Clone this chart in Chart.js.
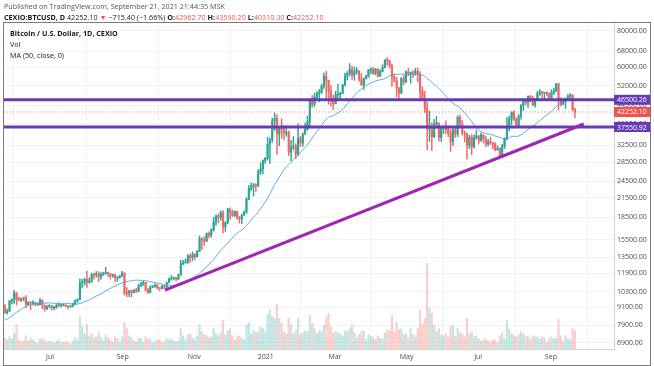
<!DOCTYPE html>
<html>
<head>
<meta charset="utf-8">
<script src="https://cdn.jsdelivr.net/npm/chart.js@4.4.0/dist/chart.umd.min.js"></script>
<style>
    html, body { margin: 0; padding: 0; background: #fff; }
    #wrap { position: relative; width: 654px; height: 366px; overflow: hidden; font-family: "Open Sans", sans-serif; color: #131722; }
    #wrap canvas { position: absolute; left: 0; top: 0; }
    .txt { position: absolute; white-space: nowrap; font-size: 7.2px; line-height: 10px; }
    .r { color: #ef5350; }
    .g { color: #555; }
</style>
</head>
<body>
<div id="wrap">
    <canvas id="chart" width="654" height="366"></canvas>
    <div class="txt g" style="left:4px; top:1px;">Published on TradingView.com, September 21, 2021 21:44:35 MSK</div>
    <div class="txt" style="left:4px; top:12px;"><b>CEXIO:BTCUSD, D</b> 42252.10 <span class="r">▼</span> −715.40 (−1.66%) <b>O:</b><span class="r">42962.70</span> <b>H:</b><span class="r">43590.20</span> <b>L:</b><span class="r">40310.30</span> <b>C:</b><span class="r">42252.10</span></div>
    <div class="txt" style="left:10px; top:28px;"><b>Bitcoin / U.S. Dollar, 1D, CEXIO</b></div>
    <div class="txt" style="left:10px; top:39px;">Vol</div>
    <div class="txt" style="left:10px; top:50px;">MA (50, close, 0)</div>
</div>
<script>
// Each candle covers two days, starting 2020-05-23 (day 143 counted from 2020-01-01)
const startDay = 143;
const dayStep = 2;
const firstOpen = 9170;

// two-day closes before the first candle, only used for the 50 day MA
const priorCloses = [
    7350, 7370, 6870, 6910, 6860, 7080, 7260, 6880, 7130, 7500, 7700, 7790,
    8660, 8990, 8900, 9160, 9990, 8740, 8820, 9800, 9380, 9720, 9520, 9170
];

const closes = [
    8720, 8840, 9575, 9700, 10200, 9660, 9650, 9780, 9770, 9320,
    9470, 9430, 9450, 9300, 9300, 9620, 9250, 9010, 9190, 9230,
    9070, 9070, 9250, 9240, 9240, 9240, 9190, 9150, 9210, 9390,
    9610, 9710, 11030, 11100, 11350, 11070, 11190, 11770, 11750, 11880,
    11580, 11770, 11910, 11960, 11870, 11660, 11770, 11470, 11540, 11680,
    11920, 10180, 10170, 10370, 10240, 10400, 10330, 10790, 10940, 11090,
    10420, 10240, 10690, 10770, 10840, 10620, 10550, 10790, 10670, 11060,
    11380, 11430, 11500, 11360, 11750, 12820, 12930, 13030, 13650, 13460,
    13800, 13550, 14150, 15580, 15480, 15310, 16280, 16070, 16720, 17800,
    18680, 18420, 19160, 17150, 17720, 19700, 19220, 18700, 19360, 18320,
    18250, 18800, 19270, 21310, 23140, 23480, 23820, 23730, 26440, 27040,
    28840, 29370, 32780, 33990, 39370, 40250, 35560, 37320, 36820, 35790,
    36070, 30830, 32070, 32370, 30430, 34320, 33110, 35510, 36930, 39270,
    46200, 44920, 47500, 48720, 49200, 51680, 55920, 54210, 49680, 46340,
    45140, 48380, 48380, 48880, 52380, 55960, 57230, 59120, 56430, 58230,
    58240, 54500, 52300, 55100, 55860, 58800, 59050, 57070, 59120, 56000,
    58100, 59790, 63500, 63310, 60680, 55720, 53900, 51090, 49000, 55030,
    53560, 57830, 57210, 57470, 57360, 58230, 56700, 49720, 46760, 43540,
    36960, 37280, 34770, 38490, 38530, 34620, 37330, 37570, 36890, 35800,
    33470, 36700, 35550, 40520, 38350, 35820, 35600, 32510, 34660, 32160,
    34490, 35040, 33800, 35290, 34220, 32880, 33520, 33120, 32820, 31420,
    31780, 29790, 32310, 34290, 37270, 40020, 42240, 39970, 38150, 40870,
    44610, 46290, 45550, 47830, 47050, 44690, 46760, 48870, 49510, 48960,
    49070, 48830, 47130, 49290, 49920, 52680, 46070, 44850, 46030, 47090,
    47760, 48310, 42967.5, 42252.1
];

const highs = [
    9310, 8980, 9620, 9740, 10400, 10230, 9880, 9800, 9880, 9990,
    9540, 9490, 9580, 9480, 9410, 9780, 9670, 9290, 9230, 9300,
    9260, 9180, 9380, 9460, 9310, 9340, 9290, 9210, 9240, 9420,
    9660, 9730, 11400, 11340, 11460, 12100, 11480, 11910, 11920, 12080,
    12050, 11960, 12000, 12470, 12020, 11880, 11830, 11800, 11590, 11700,
    12080, 11950, 10630, 10420, 10440, 10490, 10580, 10940, 11080, 11170,
    11090, 10580, 10790, 10810, 10950, 10900, 10640, 10800, 10800, 11100,
    11480, 11720, 11560, 11540, 11820, 13200, 13180, 13330, 13790, 13860,
    14080, 13890, 14250, 15970, 15760, 15840, 16340, 16480, 16880, 18480,
    18790, 18970, 19400, 19480, 17880, 19850, 19920, 19570, 19420, 19390,
    18640, 18950, 19400, 21530, 23770, 24170, 24100, 24070, 26870, 28370,
    28990, 29600, 34700, 34400, 40200, 41950, 41400, 37700, 40100, 37900,
    37850, 36400, 33800, 34800, 32900, 38500, 34900, 35900, 38700, 40900,
    46700, 48100, 48900, 49700, 50500, 52500, 57400, 58300, 54300, 52000,
    48300, 49800, 52600, 49400, 52400, 57300, 58100, 61800, 60600, 60100,
    59900, 58500, 57200, 55200, 56600, 59000, 59800, 60100, 59500, 59400,
    58900, 61200, 63800, 64800, 63500, 61500, 57000, 55500, 51200, 55400,
    56400, 58400, 59500, 57900, 58400, 59500, 59600, 58000, 51500, 49700,
    45800, 42500, 38800, 39900, 40800, 38900, 37500, 37900, 39400, 37900,
    36800, 37500, 37700, 41000, 41300, 39500, 36400, 35800, 35200, 35400,
    35300, 36600, 35100, 35900, 35300, 35000, 34100, 34600, 33300, 33200,
    32400, 31900, 32800, 34500, 40500, 40900, 42300, 42600, 40400, 41400,
    44700, 46400, 46700, 47900, 48100, 47900, 47000, 49700, 50400, 49800,
    49300, 49600, 49100, 50400, 51000, 52900, 52900, 47300, 46400, 47200,
    48500, 48800, 48400, 43590.2
];

const lows = [
    8700, 8640, 8820, 9340, 9400, 9270, 9580, 9520, 9570, 9100,
    9240, 8920, 9260, 9230, 9220, 9280, 9000, 8840, 8950, 9090,
    8950, 8920, 9060, 9160, 9120, 9200, 9150, 9000, 9110, 9130,
    9280, 9460, 9650, 10600, 10830, 10650, 11010, 11080, 11370, 11530,
    11150, 11350, 11690, 11810, 11580, 11370, 11520, 11130, 11170, 11440,
    11570, 10030, 9900, 9900, 9880, 10200, 10220, 10290, 10720, 10810,
    10350, 10150, 10200, 10630, 10650, 10500, 10390, 10520, 10540, 10650,
    11040, 11270, 11300, 11220, 11340, 11700, 12720, 12880, 12800, 12950,
    13120, 13250, 13530, 14100, 14340, 14800, 15280, 15710, 15800, 16570,
    17340, 17660, 18020, 16330, 16530, 17540, 18200, 18590, 18600, 18200,
    17650, 17570, 18740, 19050, 21230, 22760, 21820, 22650, 23450, 25850,
    25970, 28220, 28950, 28200, 33300, 36500, 30300, 32400, 34400, 33900,
    34900, 30000, 28850, 31400, 29300, 30000, 32200, 32300, 35400, 36600,
    37400, 43800, 44100, 46300, 45800, 48900, 50800, 47000, 45000, 44200,
    43000, 45000, 47100, 46300, 48800, 51900, 54300, 56100, 54600, 54200,
    57000, 53700, 52000, 50400, 54700, 55500, 57000, 56900, 56500, 55500,
    55900, 57900, 59700, 61000, 59600, 51700, 53500, 47500, 47000, 48800,
    52400, 53100, 56100, 53000, 55300, 56300, 53500, 46000, 46600, 42100,
    31400, 33500, 31200, 34500, 37200, 33600, 33500, 35700, 35600, 34800,
    31000, 32400, 34600, 34800, 38100, 35200, 33400, 29100, 31700, 30200,
    31800, 34100, 32800, 33500, 33100, 32100, 32300, 32700, 31600, 31100,
    31200, 29500, 29500, 31700, 33900, 36400, 38300, 39500, 37700, 37400,
    39900, 42800, 44700, 43800, 45600, 44400, 43900, 46700, 48100, 47100,
    46400, 48000, 46200, 46600, 48400, 49500, 42900, 44200, 44800, 43400,
    46700, 46800, 42600, 40310.3
];

// volume in BTC per candle
const vols = [
    1100, 900, 1200, 1000, 1500, 2400, 900, 700, 800, 1300,
    800, 1100, 900, 700, 600, 1000, 1000, 900, 700, 800,
    700, 600, 800, 900, 600, 700, 700, 700, 500, 800,
    1100, 900, 3200, 2200, 1500, 2400, 1300, 1500, 1100, 1200,
    1600, 1100, 800, 1400, 1100, 900, 700, 1200, 1000, 700,
    1200, 2600, 2000, 1300, 1100, 800, 700, 1100, 1000, 700,
    1200, 1000, 1000, 600, 800, 900, 900, 600, 800, 1000,
    900, 1000, 800, 700, 800, 2000, 1300, 900, 1400, 1500,
    1100, 900, 1300, 2400, 1700, 1400, 1300, 1100, 1200, 2000,
    1500, 1300, 1600, 2800, 1400, 1800, 2000, 1300, 900, 1200,
    1300, 1100, 900, 2300, 2600, 1500, 1900, 1600, 1700, 2200,
    2000, 1700, 3400, 3800, 3200, 3000, 4400, 3000, 2500, 1700,
    1500, 3000, 2400, 1500, 1900, 3000, 1400, 1600, 1800, 1700,
    3300, 2500, 2000, 1500, 1800, 1700, 2300, 3100, 3500, 2200,
    1600, 1700, 1600, 1500, 1300, 1800, 1700, 2000, 2300, 1600,
    1100, 1400, 1700, 1800, 900, 1400, 1200, 1100, 900, 1300,
    1100, 1000, 1600, 1900, 1800, 3300, 1700, 2600, 1900, 2000,
    1400, 1500, 1100, 2000, 1400, 1200, 2000, 3800, 2400, 3000,
    8400, 4000, 3500, 2300, 1700, 2000, 1400, 1300, 1500, 1200,
    2200, 2300, 1300, 2000, 1600, 1500, 1200, 3000, 1500, 1700,
    1200, 1300, 1000, 800, 900, 1000, 800, 700, 900, 900,
    600, 1300, 1600, 1000, 2800, 1900, 1500, 1300, 1200, 1400,
    1700, 1500, 1200, 1300, 1000, 1300, 1200, 1200, 1000, 1200,
    1100, 700, 1000, 1200, 1000, 1100, 2900, 1300, 700, 1300,
    1000, 900, 2000, 1800
];

// axis ticks
const priceTicks = [ 6900, 7900, 9100, 10300, 11900, 13500, 15500, 18500, 21500, 24500, 28500, 32500, 38500, 44500, 52000, 60000, 68000, 80000 ];
const monthDays = [ 182, 244, 305, 366, 425, 486, 547, 609 ];
const monthLabels = [ 'Jul', 'Sep', 'Nov', '2021', 'Mar', 'May', 'Jul', 'Sep' ];

// drawings
const levels = [ 46500.26, 37550.92 ];
const lastPrice = 42252.10;
const trendDays = [ 280, 637 ];
const trendPrices = [ 10430, 38450 ];

const xMin = 142.8, xMax = 662.8;
const UP = '#2aa596', DOWN = '#ef6763', LEVEL = '#673ab7', TREND = '#9c27b0';

const opens = closes.map( ( c, i ) => i === 0 ? firstOpen : closes[ i - 1 ] );
const days = closes.map( ( c, i ) => startDay + dayStep * i + 0.5 );
const isUp = closes.map( ( c, i ) => c >= opens[ i ] );

// 50 day simple moving average = 25 two-day closes
const allCloses = priorCloses.concat( closes );
const ma = closes.map( ( c, i ) =>
{
    const j = i + priorCloses.length;
    const win = allCloses.slice( j - 24, j + 1 );
    return win.reduce( ( a, b ) => a + b, 0 ) / win.length;
} );

const tickFont = { family: '"Open Sans", sans-serif', size: 7 };

const framePlugin = {
    id: 'frame',
    afterDraw ( chart )
    {
        const ctx = chart.ctx;
        const y = chart.scales.y;
        const area = chart.chartArea;
        ctx.save();
        // price labels on the axis
        const boxes = [ [ levels[ 0 ], LEVEL ], [ lastPrice, '#ef5350' ], [ levels[ 1 ], LEVEL ] ];
        ctx.font = '7px "Open Sans", sans-serif';
        ctx.textBaseline = 'middle';
        boxes.forEach( ( [ v, col ] ) =>
        {
            const py = y.getPixelForValue( v );
            ctx.fillStyle = col;
            ctx.fillRect( area.right, py - 5, 36, 10 );
            ctx.fillStyle = '#fff';
            ctx.fillText( v.toFixed( 2 ), area.right + 3, py + 0.5 );
        } );
        // outer frame
        ctx.strokeStyle = '#7a7a7a';
        ctx.lineWidth = 1;
        ctx.strokeRect( 3.5, 22.5, 647, 343 );
        ctx.restore();
    }
};

new Chart( document.getElementById( 'chart' ), {
    data: {
        datasets: [
            {
                type: 'bar',
                label: 'Vol',
                yAxisID: 'v',
                data: days.map( ( d, i ) => ( { x: d, y: vols[ i ] } ) ),
                backgroundColor: isUp.map( u => u ? 'rgba(38,166,154,0.28)' : 'rgba(239,83,80,0.28)' ),
                barThickness: 1.6,
                grouped: false,
                order: 10
            },
            {
                type: 'bar',
                label: 'wick',
                data: days.map( ( d, i ) => ( { x: d, y: [ lows[ i ], highs[ i ] ] } ) ),
                backgroundColor: isUp.map( u => u ? UP : DOWN ),
                barThickness: 0.8,
                grouped: false,
                order: 9
            },
            {
                type: 'bar',
                label: 'body',
                data: days.map( ( d, i ) => ( { x: d, y: [ opens[ i ], closes[ i ] ] } ) ),
                backgroundColor: isUp.map( u => u ? UP : DOWN ),
                barThickness: 1.5,
                minBarLength: 1,
                grouped: false,
                order: 8
            },
            {
                type: 'line',
                label: 'MA',
                data: days.map( ( d, i ) => ( { x: d, y: ma[ i ] } ) ),
                borderColor: '#4aa3e8',
                borderWidth: 0.9,
                pointRadius: 0,
                tension: 0,
                order: 7
            },
            {
                type: 'line',
                label: 'last',
                data: [ { x: xMin, y: lastPrice }, { x: xMax, y: lastPrice } ],
                borderColor: 'rgba(239,83,80,0.7)',
                borderWidth: 1,
                borderDash: [ 1, 2 ],
                pointRadius: 0,
                order: 6
            },
            ...levels.map( lv => ( {
                type: 'line',
                label: 'level',
                data: [ { x: xMin, y: lv }, { x: xMax, y: lv } ],
                borderColor: LEVEL,
                borderWidth: 3,
                pointRadius: 0,
                order: 5
            } ) ),
            {
                type: 'line',
                label: 'trend',
                data: trendDays.map( ( d, i ) => ( { x: d, y: trendPrices[ i ] } ) ),
                borderColor: TREND,
                borderWidth: 3,
                pointRadius: 0,
                order: 4
            }
        ]
    },
    options: {
        responsive: false,
        animation: false,
        layout: { padding: { left: 4, top: 23, right: 3, bottom: 1 } },
        plugins: { legend: { display: false }, tooltip: { enabled: false } },
        scales: {
            x: {
                type: 'linear',
                min: xMin,
                max: xMax,
                offset: false,
                afterBuildTicks: s => { s.ticks = monthDays.map( v => ( { value: v } ) ); },
                afterFit: s => { s.height = 16; },
                ticks: {
                    autoSkip: false,
                    maxRotation: 0,
                    padding: 4,
                    color: '#4a4a4a',
                    font: tickFont,
                    callback: ( v, i ) => monthLabels[ i ]
                },
                grid: { color: 'rgba(42,46,57,0.06)', drawTicks: false },
                border: { color: '#d4d4d4' }
            },
            y: {
                type: 'logarithmic',
                position: 'right',
                min: 6566,
                max: 85000,
                afterBuildTicks: s => { s.ticks = priceTicks.map( v => ( { value: v } ) ); },
                afterFit: s => { s.width = 37; },
                ticks: {
                    autoSkip: false,
                    padding: 3,
                    color: '#4a4a4a',
                    font: tickFont,
                    callback: v => Number( v ).toFixed( 2 )
                },
                grid: { color: 'rgba(42,46,57,0.06)', drawTicks: false },
                border: { color: '#d4d4d4' }
            },
            v: {
                type: 'linear',
                display: false,
                min: 0,
                max: 32000
            }
        }
    },
    plugins: [ framePlugin ]
} );
</script>
</body>
</html>
